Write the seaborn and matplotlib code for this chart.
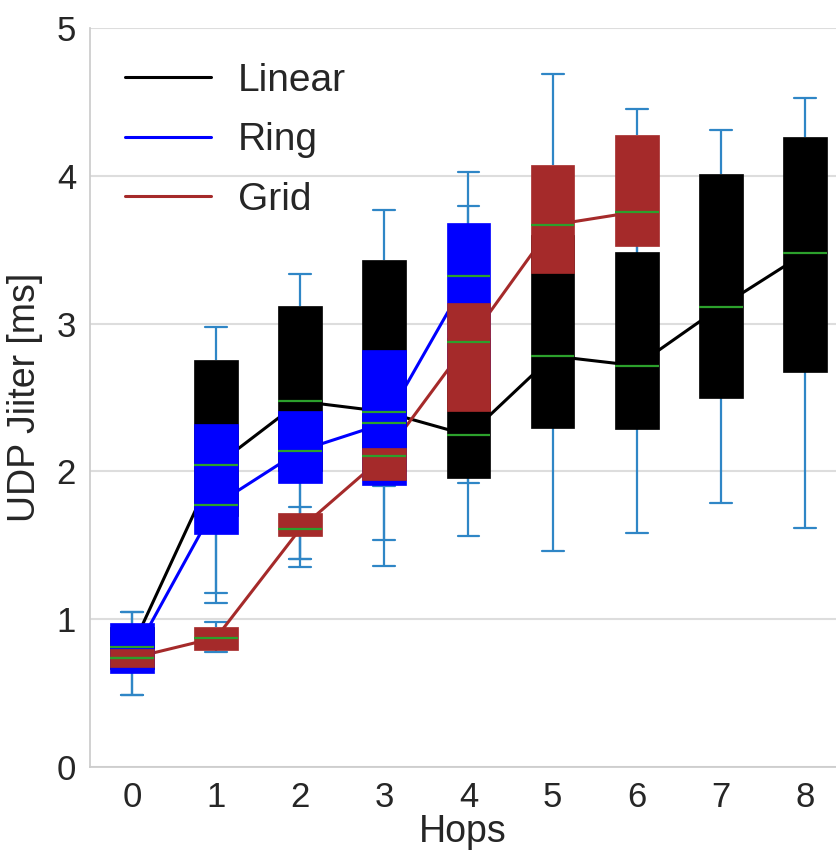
import numpy as np
import pandas as pd
import matplotlib
matplotlib.use("Agg")
import matplotlib.pyplot as plt
import seaborn as sns

# ---- data (five-number summary per hop) ----
lin_hops = [0, 1, 2, 3, 4, 5, 6, 7, 8]
lin_low = [0.487, 1.175, 1.355, 1.36, 1.565, 1.463, 1.581, 1.784, 1.615]
lin_q1 = [0.66, 1.70, 2.00, 2.00, 1.953, 2.292, 2.287, 2.494, 2.675]
lin_med = [0.81, 2.04, 2.474, 2.404, 2.244, 2.781, 2.715, 3.114, 3.476]
lin_q3 = [0.95, 2.754, 3.119, 3.43, 2.90, 3.60, 3.487, 4.012, 4.265]
lin_high = [1.047, 2.979, 3.336, 3.769, 3.40, 3.90, 3.90, 4.310, 4.529]

ring_hops = [0, 1, 2, 3, 4]
ring_low = [0.487, 1.107, 1.405, 1.536, 2.00]
ring_q1 = [0.634, 1.574, 1.92, 1.908, 2.60]
ring_med = [0.74, 1.775, 2.14, 2.325, 3.322]
ring_q3 = [0.972, 2.319, 2.411, 2.821, 3.683]
ring_high = [1.047, 2.60, 2.90, 3.30, 4.023]

grid_hops = [0, 1, 2, 3, 4, 5, 6]
grid_low = [0.65, 0.776, 1.405, 1.901, 1.924, 2.50, 2.80]
grid_q1 = [0.675, 0.79, 1.563, 1.942, 2.411, 3.34, 3.527]
grid_med = [0.737, 0.875, 1.612, 2.106, 2.876, 3.667, 3.757]
grid_q3 = [0.796, 0.949, 1.721, 2.156, 3.141, 4.073, 4.278]
grid_high = [0.90, 0.979, 1.761, 2.60, 3.796, 4.689, 4.45]

labels = ["Linear", "Ring", "Grid"]
colors = ["black", "blue", "brown"]
x_ticks = [0, 1, 2, 3, 4, 5, 6, 7, 8]
y_ticks = [0, 1, 2, 3, 4, 5]

series = [
    (lin_hops, lin_low, lin_q1, lin_med, lin_q3, lin_high),
    (ring_hops, ring_low, ring_q1, ring_med, ring_q3, ring_high),
    (grid_hops, grid_low, grid_q1, grid_med, grid_q3, grid_high),
]

sns.set_theme(style="whitegrid")
plt.rcParams["font.family"] = ["Liberation Sans", "DejaVu Sans"]

fig = plt.figure(figsize=(8.36, 8.52), dpi=100)
ax = fig.add_axes([90 / 836, 1 - 767 / 852, 1 - 90 / 836, (767 - 28) / 852])

for i, ((hops, lo, q1, med, q3, hi), lab, col) in enumerate(zip(series, labels, colors)):
    rows = []
    for h, a, b, c, d, e in zip(hops, lo, q1, med, q3, hi):
        for v in (a, b, c, d, e):
            rows.append({"hop": h, "val": v})
    df = pd.DataFrame(rows)
    # median connecting line (behind the boxes)
    sns.lineplot(x=hops, y=med, color=col, lw=2.2, ax=ax, zorder=1.5, label=lab)
    sns.boxplot(
        data=df, x="hop", y="val", native_scale=True, ax=ax,
        whis=np.inf, width=0.52, saturation=1, color=col,
        boxprops=dict(facecolor=col, edgecolor=col, linewidth=0.5, zorder=2 + 0.1 * i),
        medianprops=dict(color="#2ca02c", linewidth=1.6, zorder=6),
        whiskerprops=dict(color="#2f86c6", linewidth=1.6, zorder=1),
        capprops=dict(color="#2f86c6", linewidth=1.6, zorder=1),
        showfliers=False, legend=False,
    )

ax.set_xlim(-0.5, 8.37)
ax.set_ylim(0, 5)
ax.set_xticks(x_ticks)
ax.set_xticklabels([str(t) for t in x_ticks])
ax.set_yticks(y_ticks)
ax.tick_params(axis="both", labelsize=25, colors="#262626", pad=4)
ax.grid(axis="x", visible=False)
ax.grid(axis="y", color="#dddddd", lw=1.5)
ax.set_xlabel("Hops", fontsize=27, color="#262626", labelpad=0)
ax.set_ylabel("UDP Jiiter [ms]", fontsize=27, color="#262626", labelpad=10)
for s in ["left", "bottom"]:
    ax.spines[s].set_color("#cccccc")
ax.spines["right"].set_visible(False)
ax.spines["top"].set_visible(False)

leg = ax.legend(loc="upper left", frameon=False, fontsize=28, handlelength=2.2,
                handletextpad=0.7, labelspacing=0.6, borderaxespad=0.5)
for h in leg.get_lines():
    h.set_linewidth(2.2)

fig.savefig("out.png", dpi=100)
